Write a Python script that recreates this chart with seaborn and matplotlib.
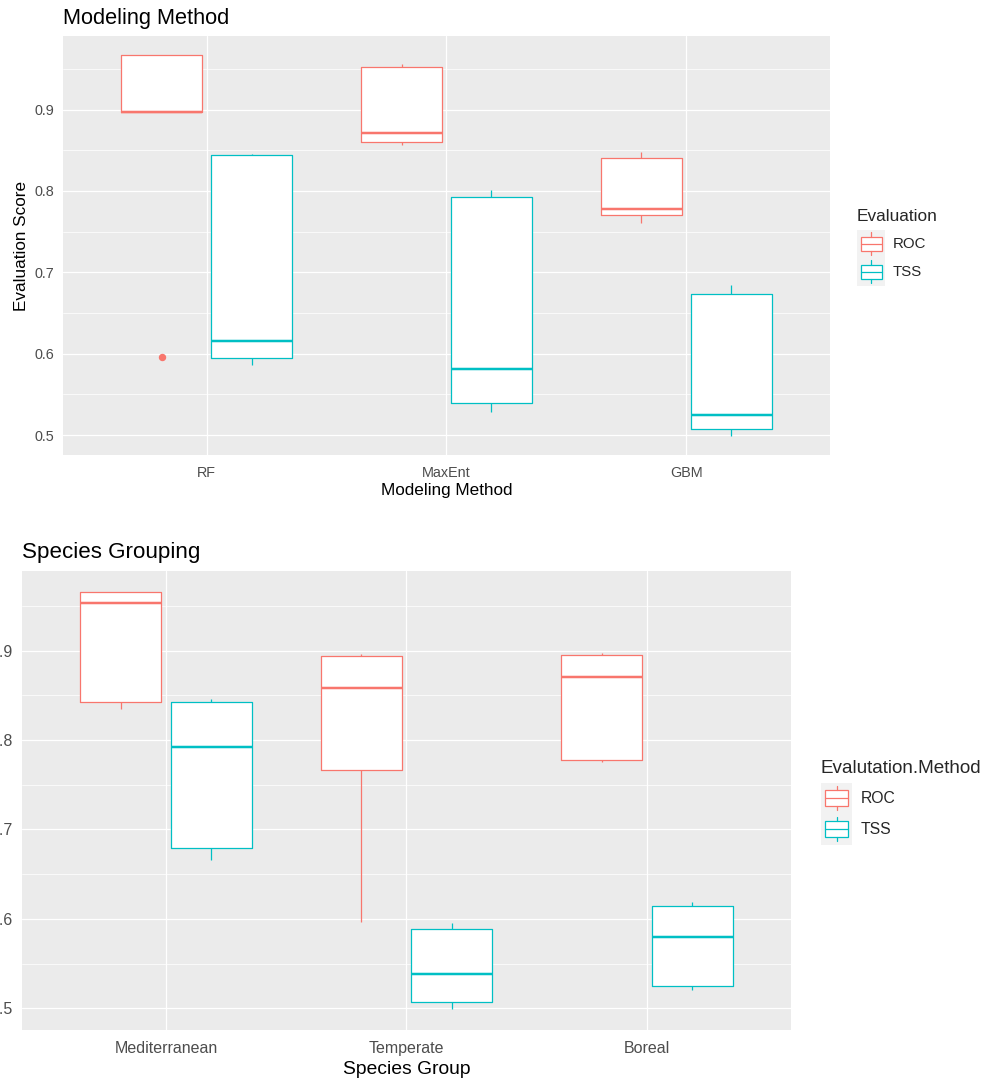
import numpy as np
import pandas as pd
import matplotlib
matplotlib.use("Agg")
import matplotlib.pyplot as plt
import seaborn as sns
from matplotlib.patches import Rectangle, Patch
from matplotlib.lines import Line2D
from matplotlib.legend_handler import HandlerBase
from matplotlib.ticker import FixedLocator

# ---------------- data ----------------
methods = ["RF", "MaxEnt", "GBM"]
groups = ["Mediterranean", "Temperate", "Boreal"]
evaluations = ["ROC", "TSS"]
eval_colors = ["#F8766D", "#00BFC4"]

rf_roc = [0.596, 0.897, 0.897, 0.967, 0.967]
rf_tss = [0.586, 0.595, 0.616, 0.844, 0.846]
maxent_roc = [0.857, 0.860, 0.871, 0.952, 0.956]
maxent_tss = [0.529, 0.540, 0.581, 0.792, 0.801]
gbm_roc = [0.761, 0.770, 0.778, 0.840, 0.848]
gbm_tss = [0.499, 0.507, 0.525, 0.674, 0.685]

med_roc = [0.835, 0.843, 0.953, 0.966, 0.966]
med_tss = [0.666, 0.679, 0.792, 0.843, 0.846]
temp_roc = [0.597, 0.766, 0.858, 0.894, 0.896]
temp_tss = [0.499, 0.507, 0.538, 0.589, 0.595]
bor_roc = [0.775, 0.778, 0.871, 0.895, 0.897]
bor_tss = [0.520, 0.525, 0.580, 0.614, 0.619]

y_ticks = [0.5, 0.6, 0.7, 0.8, 0.9]
y_ticklabels = ["0.5", "0.6", "0.7", "0.8", "0.9"]


def to_long(cats, roc_lists, tss_lists, catname, huename):
    rows = []
    for c, r, t in zip(cats, roc_lists, tss_lists):
        for v in r:
            rows.append({catname: c, huename: "ROC", "Score": v})
        for v in t:
            rows.append({catname: c, huename: "TSS", "Score": v})
    return pd.DataFrame(rows)


df_method = to_long(methods, [rf_roc, maxent_roc, gbm_roc],
                    [rf_tss, maxent_tss, gbm_tss], "Method", "Evaluation")
df_group = to_long(groups, [med_roc, temp_roc, bor_roc],
                   [med_tss, temp_tss, bor_tss], "Group", "Evalutation.Method")

# ---------------- style ----------------
sns.set_theme(style="darkgrid")
plt.rcParams.update({
    "axes.facecolor": "#EBEBEB",
    "axes.edgecolor": "none",
    "grid.color": "white",
    "axes.axisbelow": True,
    "figure.facecolor": "white",
    "xtick.color": "#333333",
    "ytick.color": "#333333",
})
plt.rcParams["font.family"] = ["Liberation Sans", "DejaVu Sans"]

PX = 0.72  # points per pixel at dpi=100


class BoxKey(HandlerBase):
    def __init__(self, lw):
        super().__init__()
        self.lw = lw

    def create_artists(self, legend, orig_handle, xdescent, ydescent,
                       width, height, fontsize, trans):
        col = orig_handle.get_edgecolor()
        x0, y0 = -xdescent, -ydescent
        bg = Rectangle((x0, y0), width, height, facecolor="#F2F2F2",
                       edgecolor="none", transform=trans)
        box = Rectangle((x0 + 0.14 * width, y0 + 0.25 * height), 0.74 * width,
                        0.5 * height, facecolor="white", edgecolor=col,
                        linewidth=self.lw, transform=trans)
        mid = Line2D([x0 + 0.14 * width, x0 + 0.88 * width],
                     [y0 + 0.5 * height] * 2, color=col, lw=self.lw,
                     transform=trans)
        cx = x0 + 0.51 * width
        w1 = Line2D([cx, cx], [y0 + 0.1 * height, y0 + 0.25 * height],
                    color=col, lw=self.lw, transform=trans)
        w2 = Line2D([cx, cx], [y0 + 0.75 * height, y0 + 0.9 * height],
                    color=col, lw=self.lw, transform=trans)
        return [bg, box, mid, w1, w2]


def draw_panel(ax, df, xcol, huecol, order, lw):
    common = dict(data=df, x=xcol, y="Score", hue=huecol, order=order,
                  hue_order=evaluations, width=0.75, gap=0.1, ax=ax)
    sns.boxplot(**common, palette=["white", "white"], fill=True,
                linewidth=0, showfliers=False, legend=False)
    sns.boxplot(**common, palette=eval_colors, fill=False, linewidth=lw,
                medianprops=dict(linewidth=lw * 2.0),
                capprops=dict(linewidth=0),
                flierprops=dict(marker="o", markersize=6 * PX),
                legend=False)
    for ln in ax.lines:
        if ln.get_marker() == "o":
            c = ln.get_markeredgecolor()
            ln.set_markerfacecolor(c)
    vals = df["Score"].to_numpy()
    lo, hi = vals.min(), vals.max()
    pad = 0.05 * (hi - lo)
    ax.set_ylim(lo - pad, hi + pad)
    ax.set_xlim(-0.6, len(order) - 0.4)
    ax.set_yticks(y_ticks)
    ax.set_yticklabels(y_ticklabels)
    ax.yaxis.set_minor_locator(FixedLocator([0.55, 0.65, 0.75, 0.85, 0.95]))
    ax.grid(True, which="major", color="white", linewidth=1.3 * PX)
    ax.grid(True, which="minor", axis="y", color="white", linewidth=0.7 * PX)
    ax.tick_params(which="minor", length=0)
    ax.tick_params(which="major", length=5 * PX, width=0.8, color="#333333",
                   labelcolor="#4D4D4D", pad=4 * PX)
    ax.tick_params(axis="x", which="major", pad=6 * PX)


W, H = 987, 1082
fig = plt.figure(figsize=(W / 100, H / 100), dpi=100)

# ---------------- top panel ----------------
ax1 = fig.add_axes([63 / W, 1 - 455 / H, 767 / W, 419 / H])
draw_panel(ax1, df_method, "Method", "Evaluation", methods, 1.25 * PX)
ax1.tick_params(labelsize=14.4 * PX)
ax1.set_title("Modeling Method", loc="left", fontsize=21.8 * PX,
              color="black", pad=12 * PX)
ax1.set_xlabel("Modeling Method", fontsize=17.1 * PX, color="black")
ax1.set_ylabel("Evaluation Score", fontsize=17.1 * PX, color="black")
ax1.xaxis.set_label_coords(0.5, -0.068)
ax1.yaxis.set_label_coords(-0.044, 0.5)

handles1 = [Patch(edgecolor=c, facecolor="none") for c in eval_colors]
leg1 = ax1.legend(handles1, evaluations, title="Evaluation",
                  loc="upper left", bbox_to_anchor=(857 / W, 1 - 209 / H),
                  bbox_transform=fig.transFigure, frameon=False,
                  fontsize=15 * PX, title_fontsize=17.3 * PX,
                  handlelength=1.87, handleheight=2.5, handletextpad=0.53,
                  labelspacing=0, borderpad=0, borderaxespad=0,
                  alignment="left", handler_map={Patch: BoxKey(1.25 * PX)})
leg1._legend_box.sep = 4

# ---------------- bottom panel ----------------
ax2 = fig.add_axes([21.7 / W, 52 / H, 769.6 / W, 459.3 / H])
draw_panel(ax2, df_group, "Group", "Evalutation.Method", groups, 1.25 * PX)
ax2.tick_params(labelsize=16 * PX)
ax2.set_title("Species Grouping", loc="left", fontsize=22.4 * PX,
              color="black", pad=13 * PX)
ax2.set_xlabel("Species Group", fontsize=19.3 * PX, color="black")
ax2.set_ylabel("")
ax2.xaxis.set_label_coords(0.5, -0.068)

handles2 = [Patch(edgecolor=c, facecolor="none") for c in eval_colors]
leg2 = ax2.legend(handles2, evaluations, title="Evalutation.Method",
                  loc="upper left", bbox_to_anchor=(821 / W, 1 - 760 / H),
                  bbox_transform=fig.transFigure, frameon=False,
                  fontsize=15.8 * PX, title_fontsize=18.9 * PX,
                  handlelength=1.94, handleheight=2.64, handletextpad=0.59,
                  labelspacing=0, borderpad=0, borderaxespad=0,
                  alignment="left", handler_map={Patch: BoxKey(1.25 * PX)})
leg2._legend_box.sep = 4

fig.savefig("out.png", dpi=100)
